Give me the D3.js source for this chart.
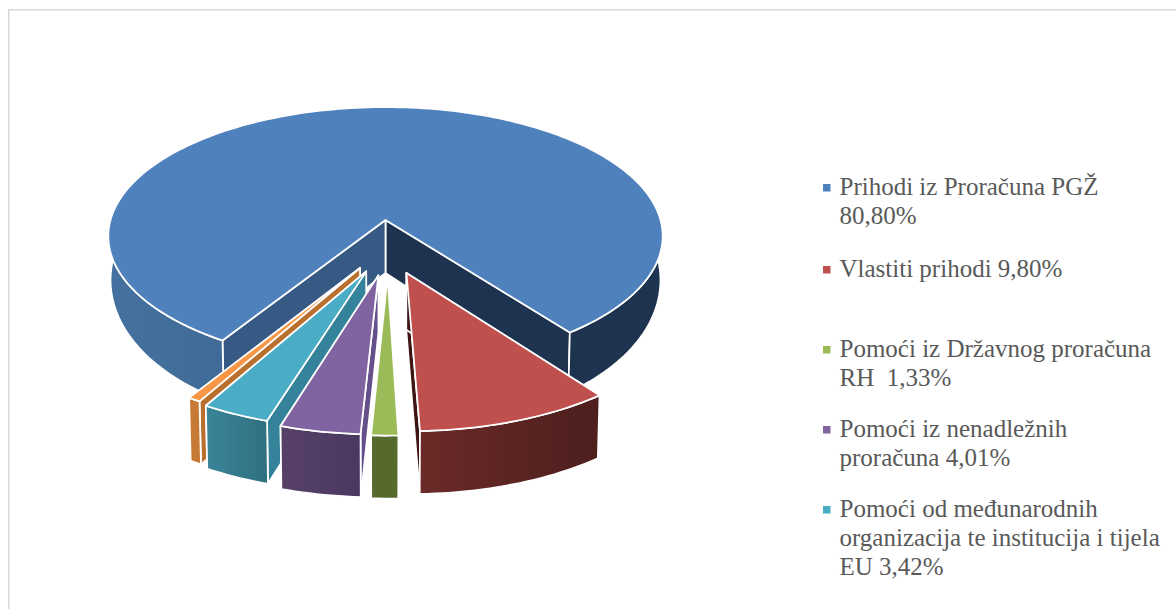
<!DOCTYPE html>
<html>
<head>
<meta charset="utf-8">
<script src="https://cdn.jsdelivr.net/npm/d3@7"></script>
<style>
  body { margin: 0; background: #fff; }
  svg { display: block; }
  .legend text { font-family: "Liberation Serif", serif; font-size: 25px; fill: #595959; white-space: pre; }
</style>
</head>
<body>
<div id="chart"></div>
<script>
// data (the last slice has no visible legend entry, its share is what is left)
const pieValues = [80.80, 9.80, 1.33, 4.01, 3.42, 0.64];
const exploded = [0, 1, 1, 1, 1, 1];
const legendLabels = [
  ["Prihodi iz Proračuna PGŽ", "80,80%"],
  ["Vlastiti prihodi 9,80%"],
  ["Pomoći iz Državnog proračuna", "RH  1,33%"],
  ["Pomoći iz nenadležnih", "proračuna 4,01%"],
  ["Pomoći od međunarodnih", "organizacija te institucija i tijela", "EU 3,42%"],
];

// colours
const topColors = ["#4f81bd", "#c0504d", "#9bbb59", "#8064a2", "#4bacc6", "#f79646"];
const legendColors = ["#4f81bd", "#c0504d", "#9bbb59", "#8064a2", "#4bacc6"];
const sideColors = ["#375a85", "#3f1514", "#566a2e", "#66508c", "#35839a", "#b96f2e"];
const wallFrom = ["#44719f", "#6b2a28", "#566a2e", "#574068", "#3a8599", "#c77a35"];
const wallTo = ["#3a628e", "#4c1f1d", "#566a2e", "#4a3860", "#30707f", "#c77a35"];
const darkWall = "#1e3350";

const width = 1176;
const height = 609;

// perspective projection of the pie
const cx = 385.5, cy = 220;
const rx = 275, ry = 127;
const persp = 0.125, bottomShrink = 0.992;
const explodeU = 0.19, explodeV = 0.42, explodeShift = 0.009, explodeRadius = 0.98;
const startDeg = 212;

// legend layout
const legendTop = [195, 277, 357, 437, 517];
const lineH = 29;

const svg = d3.select("#chart").append("svg")
  .attr("width", width)
  .attr("height", height);

// chart frame
svg.append("path")
  .attr("d", d3.line()([[8.75, height], [8.75, 9.75], [width, 9.75]]))
  .attr("fill", "none")
  .attr("stroke", "#d9d9d9")
  .attr("stroke-width", 1.5);

const defs = svg.append("defs");
topColors.forEach((c, i) => {
  const g = defs.append("linearGradient").attr("id", "wall" + i);
  g.append("stop").attr("offset", "0%").attr("stop-color", wallFrom[i]);
  g.append("stop").attr("offset", "100%").attr("stop-color", wallTo[i]);
});

const pie = d3.pie().sort(null)
  .startAngle(startDeg * Math.PI / 180)
  .endAngle((startDeg + 360) * Math.PI / 180);
const arcs = pie(pieValues);

// wall height shrinks towards the far sides of the pie
function wallHeight(u, v) {
  const vc = Math.max(0, Math.min(1, v));
  return 53 + 10 * vc - 12 * u * u * (1 - vc);
}

function project(u, v, z) {
  const s = 1 / (1 - persp * v);
  const k = 1 - (1 - bottomShrink) * z;
  return [cx + rx * u * s * k, cy + ry * v * s + wallHeight(u, v) * z];
}

const line = d3.line();

function drawSlice(i) {
  const a = arcs[i];
  const mid = (a.startAngle + a.endAngle) / 2;
  const ou = exploded[i] * (explodeU * Math.sin(mid) + explodeShift);
  const ov = exploded[i] * explodeV * -Math.cos(mid);
  const r = exploded[i] ? explodeRadius : 1;
  const g = svg.append("g");

  const rim = (t, z) => project(ou + r * Math.sin(t), ov - r * Math.cos(t), z);
  const apex = z => project(ou, ov, z);
  const sweep = (t0, t1) => d3.range(0, 1.0001, 1 / Math.max(2, Math.ceil((t1 - t0) * 40))).map(f => t0 + (t1 - t0) * f);
  const face = (d, fill) => g.append("path")
    .attr("d", d)
    .attr("fill", fill)
    .attr("stroke", "#fff")
    .attr("stroke-width", 1.75)
    .attr("stroke-linejoin", "round");

  // side walls
  const side = (t, fill) => face(line([apex(0), rim(t, 0), rim(t, 1), apex(1)]) + "Z", fill);
  side(a.endAngle, i === 0 ? darkWall : sideColors[i]);
  side(a.startAngle, sideColors[i]);

  // outer wall, the big slice has a lit left part and a dark right part
  const wall = (t0, t1, fill) => {
    const ts = sweep(t0, t1);
    face(line(ts.map(t => rim(t, 0)).concat(ts.slice().reverse().map(t => rim(t, 1)))) + "Z", fill);
  };
  if (i === 0) {
    wall(a.startAngle, 2 * Math.PI, `url(#wall0)`);
    wall(2 * Math.PI, a.endAngle, darkWall);
  } else {
    wall(a.startAngle, a.endAngle, `url(#wall${i})`);
  }

  // top
  const pts = sweep(a.startAngle, a.endAngle).map(t => rim(t, 0));
  face(line([apex(0)].concat(pts)) + "Z", topColors[i]);
}

// back to front
[0, 5, 4, 3, 1, 2].forEach(drawSlice);

// legend
const legend = svg.append("g").attr("class", "legend");
legendLabels.forEach((lines, i) => {
  legend.append("rect")
    .attr("x", 823)
    .attr("y", legendTop[i] - 11)
    .attr("width", 7.5)
    .attr("height", 7.5)
    .attr("fill", legendColors[i]);
  lines.forEach((t, j) => {
    legend.append("text")
      .attr("x", 839.5)
      .attr("y", legendTop[i] + j * lineH)
      .text(t);
  });
});
</script>
</body>
</html>
